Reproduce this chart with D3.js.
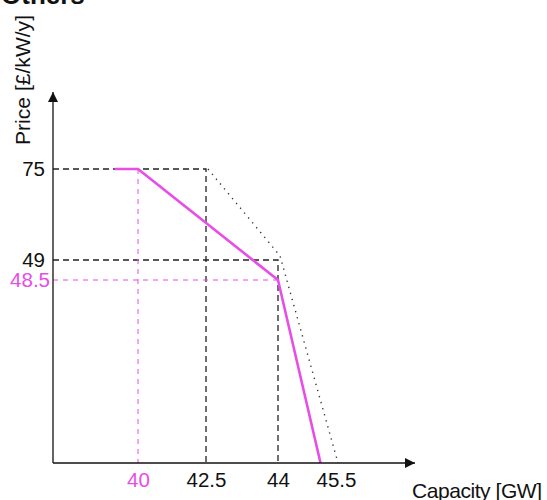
<!DOCTYPE html>
<html><head><meta charset="utf-8">
<script src="https://cdn.jsdelivr.net/npm/d3@7"></script>
<style>body{margin:0;background:#fff;} text{font-family:"Liberation Sans",Arial,sans-serif;}</style>
</head><body><svg id="c" width="547" height="500"></svg>
<script>
// ---- data ----
const title = "Others";
const xLabel = "Capacity [GW]";
const yLabel = "Price [£/kW/y]";
const xTickValues = [40, 42.5, 44, 45.5];
const yTickValues = [75, 49, 48.5];
const highlightX = [40];
const highlightY = [48.5];
// magenta (solid) curve
const curveX = [39.45, 40, 44, 45.1];
const curveY = [75, 75, 48.5, 0];
// dotted curve
const dottedX = [42.5, 44, 45.5];
const dottedY = [75, 50.2, 0];
// reference corner points (black dashed)
const blackRefX = [42.5, 44];
const blackRefY = [75, 49];
// reference corner points (magenta dashed)
const pinkRefX = [40, 44];
const pinkRefY = [75, 48.5];
// axis extents
const xDomain = [38, 40, 42.5, 44, 45.5, 47.5];
const yDomain = [0, 48.5, 49, 75, 96];

const svg = d3.select("#c");
const x = d3.scaleLinear().domain(xDomain).range([53, 138, 206, 278, 336, 413]);
const y = d3.scaleLinear().domain(yDomain).range([463, 280, 260, 169, 93]);
const pink = "#e84de8";
const x0 = xDomain[0], y0 = yDomain[0];

// title (cut off at top)
svg.append("text").attr("x", 1).attr("y", 4).attr("font-size", 26).attr("font-weight", "bold").attr("fill", "#111").text(title);

// arrow marker
svg.append("defs").append("marker").attr("id", "arr").attr("viewBox", "0 0 10 10")
  .attr("refX", 10).attr("refY", 5).attr("markerWidth", 11).attr("markerHeight", 10)
  .attr("markerUnits", "userSpaceOnUse").attr("orient", "auto")
  .append("path").attr("d", "M0,0L10,5L0,10Z").attr("fill", "#111");

// black dashed reference lines
blackRefX.forEach((vx, i) => {
  const vy = blackRefY[i];
  svg.append("path").attr("d", d3.line()([[x(x0), y(vy)], [x(vx), y(vy)], [x(vx), y(y0)]]))
    .attr("fill", "none").attr("stroke", "#222").attr("stroke-width", 1.3).attr("stroke-dasharray", "6,4");
});
// magenta dashed reference lines
svg.append("path").attr("d", d3.line()([[x(pinkRefX[0]), y(pinkRefY[0])], [x(pinkRefX[0]), y(y0)]]))
  .attr("fill", "none").attr("stroke", pink).attr("stroke-width", 1).attr("stroke-dasharray", "5,5");
svg.append("path").attr("d", d3.line()([[x(x0), y(pinkRefY[1])], [x(pinkRefX[1]), y(pinkRefY[1])]]))
  .attr("fill", "none").attr("stroke", pink).attr("stroke-width", 1).attr("stroke-dasharray", "5,5");

// dotted curve
svg.append("path").datum(dottedX.map((d, i) => [d, dottedY[i]]))
  .attr("d", d3.line().x(d => x(d[0]) + 2).y(d => y(d[1])))
  .attr("fill", "none").attr("stroke", "#333").attr("stroke-width", 1.4).attr("stroke-dasharray", "1.3,5");

// magenta solid curve
svg.append("path").datum(curveX.map((d, i) => [d, curveY[i]]))
  .attr("d", d3.line().x(d => x(d[0])).y(d => y(d[1])))
  .attr("fill", "none").attr("stroke", pink).attr("stroke-width", 2.6).attr("stroke-linejoin", "round");

// axes lines with arrows
svg.append("line").attr("x1", x(x0)).attr("y1", y(y0)).attr("x2", x(xDomain[xDomain.length - 1]) + 2).attr("y2", y(y0))
  .attr("stroke", "#111").attr("stroke-width", 1.3).attr("marker-end", "url(#arr)");
svg.append("line").attr("x1", x(x0)).attr("y1", y(y0)).attr("x2", x(x0)).attr("y2", y(yDomain[yDomain.length - 1]) - 1)
  .attr("stroke", "#111").attr("stroke-width", 1.3).attr("marker-end", "url(#arr)");

// tick labels via axes
const gx = svg.append("g").attr("transform", `translate(0,${y(y0)})`)
  .call(d3.axisBottom(x).tickValues(xTickValues).tickSize(0).tickPadding(9).tickFormat(d => String(d)));
gx.select(".domain").remove();
gx.selectAll("text").attr("font-size", 20.5).attr("font-family", "Liberation Sans, Arial, sans-serif")
  .attr("fill", d => highlightX.includes(d) ? pink : "#111");

const gy = svg.append("g").attr("transform", `translate(${x(x0)},0)`)
  .call(d3.axisLeft(y).tickValues(yTickValues).tickSize(0).tickPadding(8).tickFormat(d => String(d)));
gy.select(".domain").remove();
gy.selectAll("text").attr("font-size", 20.5).attr("font-family", "Liberation Sans, Arial, sans-serif")
  .attr("fill", d => highlightY.includes(d) ? pink : "#111")
  .attr("dx", d => highlightY.includes(d) ? 5 : 0);

// axis titles
svg.append("text").attr("x", 412).attr("y", 498).attr("font-size", 21).attr("fill", "#111")
  .attr("textLength", 130).attr("lengthAdjust", "spacing").text(xLabel);
svg.append("text").attr("transform", "translate(30,145) rotate(-90)").attr("font-size", 21).attr("fill", "#111")
  .attr("textLength", 130).attr("lengthAdjust", "spacing").text(yLabel);
</script></body></html>
